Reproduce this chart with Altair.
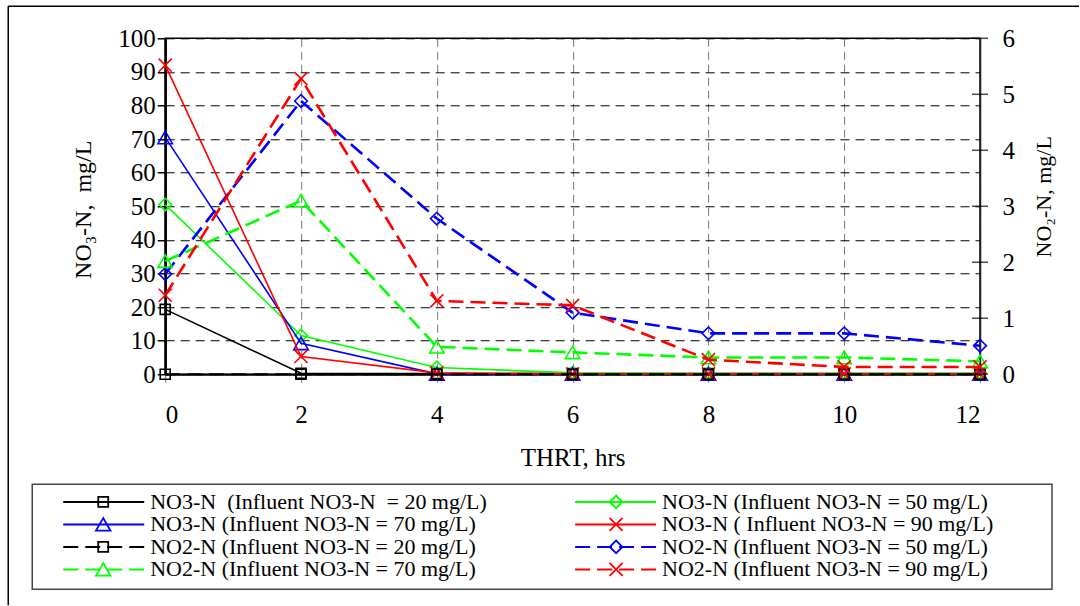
import altair as alt
import pandas as pd

# ---------------- data ----------------
hours = [0, 2, 4, 6, 8, 10, 12]

# NO3-N (left axis, mg/L)
no3_in20 = [19.3, 0.3, 0.2, 0.2, 0.2, 0.2, 0.2]
no3_in50 = [50.5, 11.5, 2.0, 0.4, 0.3, 0.3, 0.3]
no3_in70 = [70.5, 9.2, 0.1, 0.1, 0.1, 0.1, 0.1]
no3_in90 = [92.0, 5.3, 0.4, 0.1, 0.1, 0.1, 0.1]

# NO2-N (right axis, mg/L)
no2_in20 = [0.0, 0.0, 0.0, 0.0, 0.0, 0.0, 0.0]
no2_in50 = [1.79, 4.88, 2.78, 1.10, 0.73, 0.73, 0.51]
no2_in70 = [2.02, 3.10, 0.49, 0.39, 0.30, 0.30, 0.23]
no2_in90 = [1.41, 5.28, 1.31, 1.23, 0.26, 0.13, 0.13]

left_ticks = [0, 10, 20, 30, 40, 50, 60, 70, 80, 90, 100]
right_ticks = [0, 1, 2, 3, 4, 5, 6]
x_ticks = [0, 2, 4, 6, 8, 10, 12]

labels = [
    "NO3-N\u00a0 (Influent NO3-N\u00a0 = 20 mg/L)",
    "NO3-N (Influent NO3-N = 50 mg/L)",
    "NO3-N (Influent NO3-N = 70 mg/L)",
    "NO3-N (\u00a0Influent NO3-N = 90 mg/L)",
    "NO2-N (Influent NO3-N = 20 mg/L)",
    "NO2-N (Influent NO3-N = 50 mg/L)",
    "NO2-N (Influent NO3-N = 70 mg/L)",
    "NO2-N (Influent NO3-N = 90 mg/L)",
]

# ---------------- styles ----------------
FONT = "Liberation Serif, Times New Roman, serif"
W, H = 815, 336
XPATH = "M-1,-1L1,1M-1,1L1,-1"
DASH = [15, 7]

styles = [
    # values, side, color, shape, size, dash, width
    (no3_in20, "left", "#000000", "square", 100, None, 1.6),
    (no3_in50, "left", "#00FF00", "diamond", 160, None, 1.6),
    (no3_in70, "left", "#0000FF", "triangle-up", 210, None, 1.6),
    (no3_in90, "left", "#FF0000", XPATH, 170, None, 1.6),
    (no2_in20, "right", "#000000", "square", 100, DASH, 2.2),
    (no2_in50, "right", "#0000FF", "diamond", 160, DASH, 2.6),
    (no2_in70, "right", "#00FF00", "triangle-up", 210, DASH, 2.6),
    (no2_in90, "right", "#FF0000", XPATH, 170, DASH, 2.6),
]

x_axis = alt.Axis(
    values=x_ticks, title="THRT, hrs", grid=True, gridColor="#777777",
    gridDash=[8, 5], gridWidth=1, tickColor="#777777", tickSize=8, tickWidth=1,
    domainColor="black", domainWidth=2, labelFontSize=25, labelColor="black",
    labelBaseline="alphabetic", labelPadding=40, labelFont=FONT,
    titleFont=FONT, titleFontSize=25, titleFontWeight="normal", titleColor="black",
    titleY=91, titleBaseline="alphabetic",
)
x_scale = alt.Scale(domain=[0, 12], nice=False, zero=False)

left_axis = alt.Axis(
    orient="left", values=left_ticks, title="NO\u2083-N,\u00a0 mg/L", grid=True,
    gridColor="black", gridDash=[9, 6], gridWidth=1, tickColor="black",
    tickSize=8, tickWidth=1.5, domainColor="black", domainWidth=2.5,
    labelFontSize=25, labelColor="black", labelPadding=2, labelFont=FONT,
    titleFont=FONT, titleFontSize=24, titleFontWeight="normal", titleColor="black",
    titleAngle=270, titleX=-82, titleY=171, titleAlign="center", titleBaseline="middle",
)
left_scale = alt.Scale(domain=[0, 100], nice=False)

right_axis = alt.Axis(
    orient="right", values=right_ticks, title="NO\u2082-N, mg/L", grid=False,
    ticks=False, tickSize=0, domainColor="#222222", domainWidth=1.5,
    labelFontSize=25, labelColor="black", labelPadding=22, labelFont=FONT,
    titleFont=FONT, titleFontSize=22, titleFontWeight="normal", titleColor="black",
    titleAngle=270, titleX=63, titleY=158, titleAlign="center", titleBaseline="middle",
)
right_scale = alt.Scale(domain=[0, 6], nice=False)


def series_layers(vals, side, color, shape, size, dash, width):
    df = pd.DataFrame({"t": hours, "v": vals})
    yax = left_axis if side == "left" else right_axis
    ysc = left_scale if side == "left" else right_scale
    enc = dict(
        x=alt.X("t:Q", scale=x_scale, axis=x_axis),
        y=alt.Y("v:Q", scale=ysc, axis=yax),
    )
    lkw = dict(color=color, strokeWidth=width)
    if dash:
        lkw["strokeDash"] = dash
    line = alt.Chart(df).mark_line(**lkw).encode(**enc)
    pts = alt.Chart(df).mark_point(
        shape=shape, size=size, filled=False, color=color, strokeWidth=1.6, opacity=1
    ).encode(**enc)
    return [line, pts]


left_layers, right_layers = [], []
for s in styles:
    (left_layers if s[1] == "left" else right_layers).extend(series_layers(*s))

# crossing ticks of the right axis
rt_df = pd.DataFrame({"t": [12] * len(right_ticks), "v": right_ticks})
right_tick_marks = alt.Chart(rt_df).mark_tick(
    orient="horizontal", size=16, thickness=1.5, color="black"
).encode(
    x=alt.X("t:Q", scale=x_scale, axis=x_axis),
    y=alt.Y("v:Q", scale=right_scale, axis=right_axis),
)

left_group = alt.layer(*left_layers)
right_group = alt.layer(*right_layers, right_tick_marks)

# ---------------- decorations: legend + outer frame ----------------
one = pd.DataFrame({"k": [0]})
decor = []

# outer frame (left and top edges)
decor.append(alt.Chart(one).mark_rule(color="black", strokeWidth=1.5).encode(
    x=alt.value(-157), x2=alt.value(914), y=alt.value(-32)))
decor.append(alt.Chart(one).mark_rule(color="black", strokeWidth=1.5).encode(
    x=alt.value(-157), y=alt.value(-32), y2=alt.value(567)))

# legend box
decor.append(alt.Chart(one).mark_rect(filled=False, stroke="#444444", strokeWidth=1.5).encode(
    x=alt.value(-133), x2=alt.value(887), y=alt.value(446), y2=alt.value(551)))

row_y = [463.7, 486.2, 508.7, 531.2]
col_geo = [(-102, -21, -62, -15), (410, 491, 451, 497)]  # line start, line end, marker, text
legend_order = [0, 1, 2, 3, 4, 5, 6, 7]
for i, idx in enumerate(legend_order):
    vals, side, color, shape, size, dash, width = styles[idx]
    r, c = divmod(i, 2)
    x1, x2, xm, xt = col_geo[c]
    y = row_y[r]
    rkw = dict(color=color, strokeWidth=2)
    if dash:
        rkw["strokeDash"] = DASH
    decor.append(alt.Chart(one).mark_rule(**rkw).encode(
        x=alt.value(x1), x2=alt.value(x2), y=alt.value(y)))
    decor.append(alt.Chart(one).mark_point(
        shape=shape, size=size, filled=False, color=color, strokeWidth=1.8, opacity=1
    ).encode(x=alt.value(xm), y=alt.value(y)))
    decor.append(alt.Chart(one).mark_text(
        align="left", baseline="middle", font=FONT, fontSize=22, color="black"
    ).encode(x=alt.value(xt), y=alt.value(y), text=alt.value(labels[idx])))

chart = alt.layer(left_group, right_group, *decor).resolve_scale(
    y="independent"
).properties(
    width=W, height=H,
    padding={"left": 7.25, "top": 5.25, "right": 0, "bottom": 0},
    background="white",
).configure_view(stroke="black", strokeWidth=1.5)

chart.save("out.html", embed_options={"renderer": "svg", "actions": False})
